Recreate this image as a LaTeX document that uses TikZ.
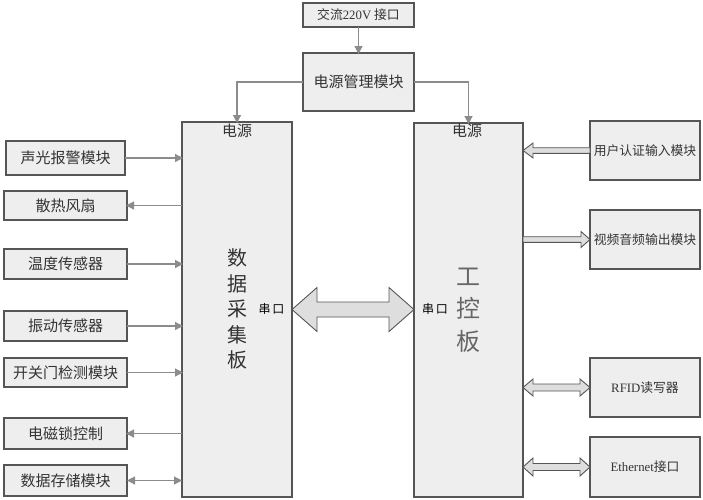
\documentclass[tikz,border=0pt]{standalone}
\usepackage{fontspec}
\setmainfont{Noto Sans CJK SC}
\newfontfamily\lat{Liberation Serif}
\usetikzlibrary{arrows.meta,calc}
\definecolor{boxfill}{HTML}{EEEEEE}
\definecolor{boxline}{HTML}{555555}
\definecolor{thin}{HTML}{8C8C8C}
\definecolor{blockfill}{HTML}{DEDEDE}
\definecolor{inktext}{HTML}{333333}
\tikzset{
  box/.style={draw=boxline,fill=boxfill,line width=1.1pt,inner sep=0pt,outer sep=0pt,text=inktext,font=\fontsize{15}{17}\selectfont,align=center},
  smallbox/.style={box,font=\fontsize{12.8}{15}\selectfont},
  lab/.style={inner sep=0pt,text=inktext,font=\fontsize{15}{17}\selectfont},
  conn/.style={draw=thin,line width=1.2pt,-{Triangle[length=8pt,width=8pt]},shorten >=-1pt},
  conntwo/.style={draw=thin,line width=1.2pt,{Triangle[length=8pt,width=8pt]}-{Triangle[length=8pt,width=8pt]}},
  blockarrow/.style={draw=boxline,fill=blockfill,line width=.9pt,line join=miter}
}
% #1 tip, #2 other tip, #3 half shaft, #4 half head, #5 head length
\newcommand\bothblock[5]{%
  \coordinate (tipa) at (#1);
  \coordinate (tipb) at (#2 |- #1);
  \path[blockarrow] (tipa) -- ($(tipa)+(#5,-#4)$) -- ($(tipa)+(#5,-#3)$) -- ($(tipb)+(-#5,-#3)$) -- ($(tipb)+(-#5,-#4)$) -- (tipb)
    -- ($(tipb)+(-#5,#4)$) -- ($(tipb)+(-#5,#3)$) -- ($(tipa)+(#5,#3)$) -- ($(tipa)+(#5,#4)$) -- cycle;}
% #1 tip, #2 tail
\newcommand\oneblock[5]{%
  \coordinate (tipa) at (#1);
  \coordinate (tailb) at (#2 |- #1);
  \path[blockarrow] (tipa) -- ($(tipa)!#5pt!(tailb)+(0,-#4)$) -- ($(tipa)!#5pt!(tailb)+(0,-#3)$) -- ($(tailb)+(0,-#3)$) -- ($(tailb)+(0,#3)$) -- ($(tipa)!#5pt!(tailb)+(0,#3)$) -- ($(tipa)!#5pt!(tailb)+(0,#4)$) -- cycle;}
\begin{document}
\begin{tikzpicture}[x=1pt,y=-1pt]
\useasboundingbox (0,0) rectangle (703,499);
% top
\node[smallbox,minimum width=111pt,minimum height=24pt] (ac) at (358.5,15) {交流{\lat 220V} 接口};
\node[box,minimum width=111pt,minimum height=58pt] (pm) at (358.5,82) {电源管理模块};
% main boards
\node[box,minimum width=110pt,minimum height=375pt] (dc) at (237,309.5) {};
\node[box,minimum width=109pt,minimum height=374pt] (ic) at (468.5,310) {};
% left column
\node[box,minimum width=119pt,minimum height=34pt] (sg) at (65.5,158) {声光报警模块};
\node[box,minimum width=123pt,minimum height=29pt] (fan) at (65.5,205.5) {散热风扇};
\node[box,minimum width=123pt,minimum height=30pt] (temp) at (65.5,264) {温度传感器};
\node[box,minimum width=123pt,minimum height=30pt] (vib) at (65.5,326) {振动传感器};
\node[box,minimum width=123pt,minimum height=29pt] (door) at (65.5,372.5) {开关门检测模块};
\node[box,minimum width=123pt,minimum height=31pt] (lock) at (65.5,433.5) {电磁锁控制};
\node[box,minimum width=123pt,minimum height=31pt] (store) at (65.5,480.5) {数据存储模块};
% right column
\node[smallbox,minimum width=110pt,minimum height=59pt] (auth) at (645,150.5) {用户认证输入模块};
\node[smallbox,minimum width=110pt,minimum height=59pt] (av) at (645,239.5) {视频音频输出模块};
\node[smallbox,minimum width=110pt,minimum height=59pt] (rfid) at (645,387.5) {{\lat RFID}读写器};
\node[smallbox,minimum width=110pt,minimum height=60pt] (eth) at (645,467) {{\lat Ethernet}接口};
% labels in boards
\node[lab] (p1) at (237,131) {电源};
\node[lab] (p2) at (467,131) {电源};
\node[lab,font=\fontsize{12}{14}\selectfont,text=black] (s1) at (271.5,309) {串\,口};
\node[lab,font=\fontsize{12}{14}\selectfont,text=black] (s2) at (435,309) {串\,口};
\node[lab,font=\fontsize{20}{25.5}\selectfont,align=center] (t1) at (237,309) {数\\据\\采\\集\\板};
\node[lab,font=\fontsize{24}{32.5}\selectfont,align=center,text=black!60] (t2) at (468,310) {工\\控\\板};
% thin connectors
\draw[conn] (ac.south) -- (pm.north);
\draw[conn] (pm.west) -| (dc.north);
\draw[conn] (pm.east) -| (ic.north);
\draw[conn] (sg.east) -- (dc.west |- sg.east);
\draw[conn] (dc.west |- fan.east) -- (fan.east);
\draw[conn] (temp.east) -- (dc.west |- temp.east);
\draw[conn] (vib.east) -- (dc.west |- vib.east);
\draw[conn] (door.east) -- (dc.west |- door.east);
\draw[conn] (dc.west |- lock.east) -- (lock.east);
\draw[conntwo] (store.east) -- (dc.west |- store.east);
% block arrows
\bothblock{dc.east}{ic.west}{7.5}{22}{25}
\oneblock{ic.east |- auth.west}{auth.west}{2.8}{7.5}{10}
\oneblock{av.west}{ic.east |- av.west}{2.8}{8}{9}
\bothblock{ic.east |- rfid.west}{rfid.west}{3.5}{8.5}{10}
\bothblock{ic.east |- eth.west}{eth.west}{3.5}{9}{10}
\end{tikzpicture}
\end{document}
